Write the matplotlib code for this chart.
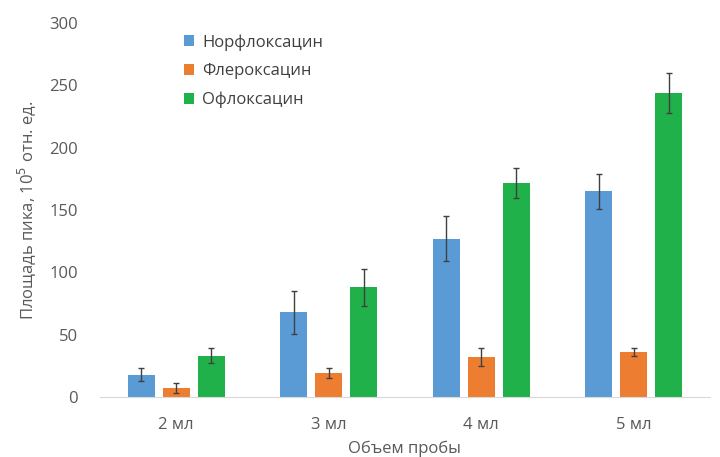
import numpy as np
import matplotlib.pyplot as plt

plt.rcParams['font.family'] = ['Open Sans', 'DejaVu Sans']

categories = ['2 мл', '3 мл', '4 мл', '5 мл']
series = ['Норфлоксацин', 'Флероксацин', 'Офлоксацин']
norflox = [18, 68, 127, 165]
norflox_err = [5, 17, 18, 14]
fleroxa = [7, 19, 32, 36]
fleroxa_err = [4, 4, 7, 3]
oflox = [33, 88, 172, 244]
oflox_err = [6, 15, 12, 16]

values = [norflox, fleroxa, oflox]
errors = [norflox_err, fleroxa_err, oflox_err]
colors = ['#5B9BD5', '#ED7D31', '#21B14B']

fig = plt.figure(figsize=(7.2, 4.57), dpi=100)
ax = fig.add_axes([0.139, 0.131, 0.847, 0.819])

x = np.arange(len(categories))
w = 0.177
offsets = [-0.23, 0, 0.23]
for vals, errs, col, off, name in zip(values, errors, colors, offsets, series):
    ax.bar(x + off, vals, w, color=col, label=name,
           yerr=errs, error_kw=dict(ecolor='#404040', elinewidth=1, capsize=2.5, capthick=1))

ax.set_xlim(-0.5, len(categories) - 0.5)
ax.set_ylim(0, 300)
ax.set_yticks(range(0, 301, 50))
ax.set_xticks(x)
ax.set_xticklabels(categories)

for s in ['top', 'right', 'left']:
    ax.spines[s].set_visible(False)
ax.spines['bottom'].set_color('#d9d9d9')
ax.tick_params(axis='both', length=0, labelsize=12, colors='#595959')
ax.tick_params(axis='x', pad=14)
ax.tick_params(axis='y', pad=16)

ax.set_ylabel('Площадь пика, 10$^5$ отн. ед.', fontsize=12, color='#595959', labelpad=8)
ax.set_xlabel('Объем пробы', fontsize=12, color='#595959', labelpad=6)

ax.legend(loc='upper left', bbox_to_anchor=(0.113, 1.01), frameon=False,
          fontsize=12, labelcolor='#404040', handlelength=0.6, handleheight=0.6,
          handletextpad=0.5, labelspacing=0.75)

fig.savefig('out.png', dpi=100)
